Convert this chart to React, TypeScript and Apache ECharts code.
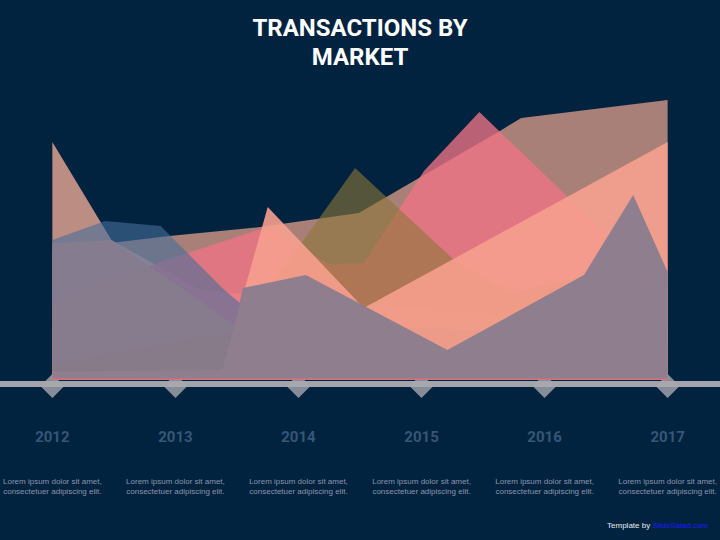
import React, { useEffect, useRef } from "react";
import * as echarts from "echarts";

const years = [2012, 2013, 2014, 2015, 2016, 2017];
const loremLine1 = "Lorem ipsum dolor sit amet,";
const loremLine2 = "consectetuer adipiscing elit.";

const mauveData = [[2012, 46.4], [2012.95, 51.4], [2013.69, 54.6], [2014.49, 59.6], [2015.65, 89.3], [2015.81, 93.6], [2017, 100]];
const tanData = [[2012, 85], [2012.48, 50], [2013.2, 32.1], [2017, 17.9]];
const pinkData = [[2012, 28.6], [2013.1, 45.4], [2013.74, 54.6], [2014.25, 41.4], [2014.53, 41.8], [2015.02, 74.6], [2015.47, 95.7], [2016.23, 63.6], [2016.52, 51.1], [2017, 32.1]];
const blueData = [[2012, 50], [2012.43, 56.8], [2012.88, 55], [2013.38, 32.9], [2013.69, 21.4], [2017, 14.3]];
const oliveData = [[2012, 6], [2013.52, 17.9], [2014.46, 75.7], [2015.29, 41.8], [2015.75, 31.1], [2016.32, 37.5], [2017, 21.4]];
const salmonData = [[2012, 3], [2013.38, 3.6], [2013.75, 61.8], [2014.53, 25.7], [2017, 85]];
const grayData = [[2012, 48.9], [2012.48, 50], [2013.48, 19.6], [2013.55, 32.9], [2014.06, 37.5], [2015.21, 10.7], [2016.32, 37.5], [2016.72, 66.1], [2017, 38.6]];
const markerLevel = -2.1;

export default function App() {
  const ref = useRef<HTMLDivElement>(null);
  useEffect(() => {
    document.body.style.margin = "0";
    const chart = echarts.init(ref.current!, null, { renderer: "svg" });
    const area = (name: string, data: number[][], color: string) => ({
      name,
      type: "line",
      data,
      showSymbol: false,
      symbol: "none",
      lineStyle: { width: 0 },
      areaStyle: { color, opacity: 1 },
      z: 3,
    });
    chart.setOption({
      animation: false,
      backgroundColor: "#02233f",
      title: {
        text: "TRANSACTIONS BY\nMARKET",
        left: "center",
        top: 8,
        textStyle: {
          color: "#ffffff",
          fontFamily: "Roboto",
          fontWeight: "bold",
          fontSize: 24,
          lineHeight: 29,
        },
      },
      grid: { left: 50, right: 47, top: 86, bottom: 132 },
      xAxis: {
        type: "value",
        min: 2012,
        max: 2017,
        interval: 1,
        axisLine: { show: false },
        axisTick: { show: false },
        splitLine: { show: false },
        axisLabel: {
          show: true,
          showMinLabel: true,
          showMaxLabel: true,
          margin: 19,
          formatter: (v: number) => `{y|${v}}\n{g|}\n{l|${loremLine1}}\n{l|${loremLine2}}`,
          rich: {
            y: { fontFamily: "Roboto", fontWeight: "bold", fontSize: 15, color: "#365677", lineHeight: 20 },
            g: { lineHeight: 29, fontSize: 8 },
            l: { fontFamily: "Liberation Sans", fontSize: 8, color: "#8a95ab", lineHeight: 10 },
          },
        },
      },
      yAxis: { type: "value", min: -10, max: 105, show: false },
      graphic: [
        {
          type: "rect",
          z: 0,
          shape: { x: 0, y: 381, width: 720, height: 6 },
          style: { fill: "#a3a3aa" },
        },
        {
          type: "text",
          right: 12,
          top: 521,
          style: {
            text: "{a|Template by }{b|SlideSalad.com}",
            rich: {
              a: { fill: "#e6ebf2", fontSize: 8, fontFamily: "Liberation Sans" },
              b: { fill: "#1a1aff", fontSize: 8, fontFamily: "Liberation Sans" },
            },
          },
        },
      ],
      series: [
        {
          name: "markers",
          type: "scatter",
          data: years.map((y) => [y, markerLevel]),
          symbol: "diamond",
          symbolSize: [24, 24],
          itemStyle: { color: "#a8a8af" },
          z: 1,
        },
        area("Mauve", mauveData, "rgba(210,151,134,0.8)"),
        area("Tan", tanData, "rgba(235,168,148,0.8)"),
        area("Pink", pinkData, "rgba(239,115,132,0.78)"),
        area("Blue", blueData, "rgba(70,110,155,0.6)"),
        area("Olive", oliveData, "rgba(140,118,57,0.6)"),
        area("Salmon", salmonData, "rgba(246,160,142,0.9)"),
        area("Gray", grayData, "rgba(135,124,142,0.93)"),
        {
          name: "base",
          type: "line",
          data: [[2012, 0.3], [2017, 0.3]],
          showSymbol: false,
          symbol: "none",
          lineStyle: { width: 1.5, color: "#d9707e" },
          z: 4,
        },
      ],
    });
    return () => chart.dispose();
  }, []);
  return <div ref={ref} style={{ width: 720, height: 540, position: "absolute", left: 0, top: 0 }} />;
}
